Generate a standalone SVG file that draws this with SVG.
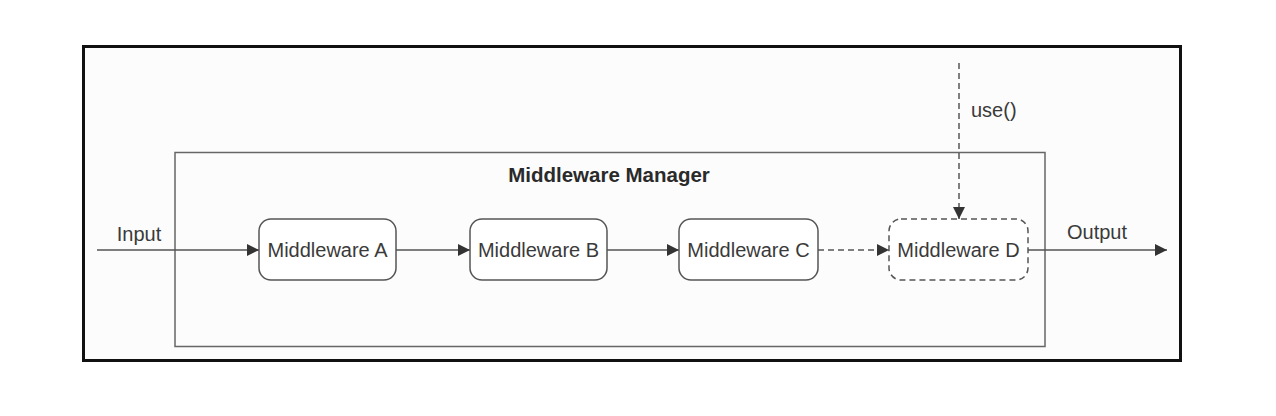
<svg xmlns="http://www.w3.org/2000/svg" width="1276" height="416" viewBox="0 0 1276 416">
<style>
text{font-family:"Liberation Sans",Arial,sans-serif;fill:#3a3a3a;font-size:20px}
.title{font-weight:bold;fill:#2a2a2a;font-size:20.5px}
.node{fill:#ffffff;stroke:#555;stroke-width:1.5}
.dash{stroke-dasharray:6 4}
.conn{stroke:#555;stroke-width:1.5;fill:none}
</style>
<defs>
<marker id="arr" viewBox="0 0 10 10" refX="10" refY="5" markerWidth="12" markerHeight="12" markerUnits="userSpaceOnUse" orient="auto">
<path d="M0,0L10,5L0,10Z" fill="#333"/>
</marker>
</defs>
<rect x="0" y="0" width="1276" height="416" fill="#ffffff"/>
<rect id="frame" x="83.5" y="46.5" width="1097" height="314" fill="#fcfcfc" stroke="#111" stroke-width="3"/>
<g id="manager">
<rect x="175" y="152.5" width="870" height="194" fill="none" stroke="#666" stroke-width="1.5"/>
<text class="title" x="609" y="182" text-anchor="middle">Middleware Manager</text>
</g>
<g id="connectors">
<line class="conn" x1="97" y1="250" x2="259" y2="250" marker-end="url(#arr)"/>
<text x="139" y="241" text-anchor="middle">Input</text>
<line class="conn" x1="396" y1="250" x2="470" y2="250" marker-end="url(#arr)"/>
<line class="conn" x1="607" y1="250" x2="679" y2="250" marker-end="url(#arr)"/>
<line class="conn dash" x1="818" y1="250" x2="889" y2="250" marker-end="url(#arr)"/>
<line class="conn dash" x1="959" y1="63" x2="959" y2="219" marker-end="url(#arr)"/>
<text x="971" y="117">use()</text>
<line class="conn" x1="1028" y1="250" x2="1167" y2="250" marker-end="url(#arr)"/>
<text x="1097" y="239" text-anchor="middle">Output</text>
</g>
<g id="mwA">
<rect class="node" x="259" y="219" width="137" height="61" rx="12"/>
<text x="327.5" y="257" text-anchor="middle">Middleware A</text>
</g>
<g id="mwB">
<rect class="node" x="470" y="219" width="137" height="61" rx="12"/>
<text x="538.5" y="257" text-anchor="middle">Middleware B</text>
</g>
<g id="mwC">
<rect class="node" x="679" y="219" width="139" height="61" rx="12"/>
<text x="748.5" y="257" text-anchor="middle">Middleware C</text>
</g>
<g id="mwD">
<rect class="node dash" x="889" y="219" width="139" height="61" rx="12"/>
<text x="958.5" y="257" text-anchor="middle">Middleware D</text>
</g>
</svg>
